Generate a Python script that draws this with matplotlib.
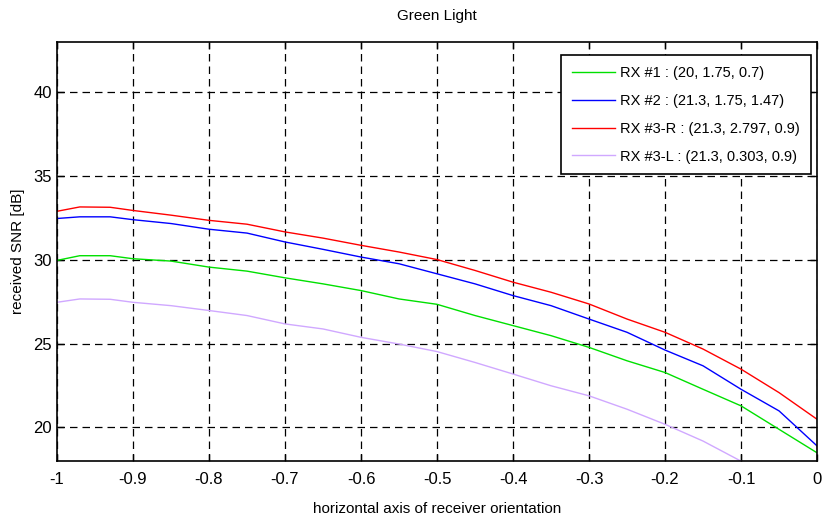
import matplotlib
matplotlib.use('Agg')
import matplotlib.pyplot as plt
import numpy as np

plt.rcParams['font.family'] = ['Liberation Sans Narrow', 'Liberation Sans', 'DejaVu Sans']

# orientation samples
x = [-1.0, -0.97, -0.93, -0.9, -0.85, -0.8, -0.75, -0.7, -0.65, -0.6, -0.55, -0.5,
     -0.45, -0.4, -0.35, -0.3, -0.25, -0.2, -0.15, -0.1, -0.05, 0.0]

snr_rx1 = [29.97, 30.25, 30.25, 30.07, 29.93, 29.57, 29.33, 28.93, 28.57, 28.17, 27.67, 27.35,
           26.68, 26.08, 25.48, 24.78, 23.98, 23.28, 22.28, 21.29, 19.89, 18.49]
snr_rx2 = [32.47, 32.57, 32.57, 32.40, 32.17, 31.83, 31.60, 31.07, 30.63, 30.17, 29.77, 29.17,
           28.57, 27.87, 27.27, 26.47, 25.68, 24.62, 23.68, 22.28, 20.99, 18.90]
snr_rx3r = [32.90, 33.16, 33.14, 32.95, 32.67, 32.36, 32.13, 31.67, 31.30, 30.87, 30.47, 30.02,
            29.37, 28.67, 28.07, 27.37, 26.47, 25.68, 24.68, 23.48, 22.08, 20.49]
snr_rx3l = [27.47, 27.67, 27.65, 27.47, 27.27, 26.98, 26.68, 26.18, 25.88, 25.38, 24.98, 24.53,
            23.88, 23.19, 22.49, 21.89, 21.09, 20.19, 19.19, 17.99, 16.5, 14.6]

labels = ['RX #1 : (20, 1.75, 0.7)',
          'RX #2 : (21.3, 1.75, 1.47)',
          'RX #3-R : (21.3, 2.797, 0.9)',
          'RX #3-L : (21.3, 0.303, 0.9)']
colors = ['#00e000', '#0000ff', '#ff0000', '#d0a8ff']

xticks = [-1, -0.9, -0.8, -0.7, -0.6, -0.5, -0.4, -0.3, -0.2, -0.1, 0]
xticklabels = ['-1', '-0.9', '-0.8', '-0.7', '-0.6', '-0.5', '-0.4', '-0.3', '-0.2', '-0.1', '0']
yticks = [20, 25, 30, 35, 40]

fig = plt.figure(figsize=(8.22, 5.24), dpi=100)
ax = fig.add_axes([0.0693, 0.1202, 0.9247, 0.7996])

for ys, lab, c in zip([snr_rx1, snr_rx2, snr_rx3r, snr_rx3l], labels, colors):
    ax.plot(x, ys, color=c, lw=1.0, label=lab)

ax.set_xlim(-1, 0)
ax.set_ylim(18, 43)
ax.set_xticks(xticks)
ax.set_xticklabels(xticklabels)
ax.set_yticks(yticks)
ax.tick_params(direction='in', length=5, labelsize=12, width=1, top=True, right=True)
ax.tick_params(axis='x', pad=8)
ax.grid(True, color='black', linestyle=(0, (6, 4)), linewidth=0.9)
for s in ax.spines.values():
    s.set_linewidth(1.2)

ax.set_title('Green Light', fontsize=11, pad=16)
ax.set_xlabel('horizontal axis of receiver orientation', fontsize=11, labelpad=11)
ax.set_ylabel('received SNR [dB]', fontsize=11, labelpad=6)

leg = ax.legend(loc='upper right', bbox_to_anchor=(0.992, 0.969), borderaxespad=0,
                fontsize=10.5, fancybox=False, framealpha=1, edgecolor='black',
                handlelength=2.95, handletextpad=0.35, borderpad=0.75, labelspacing=0.95)
leg.get_frame().set_linewidth(1.2)

fig.savefig('out.png', dpi=100)
